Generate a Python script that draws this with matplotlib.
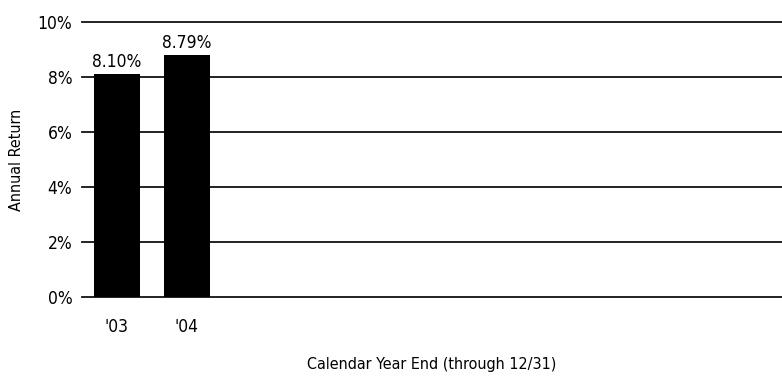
import matplotlib
matplotlib.use('Agg')
import matplotlib.pyplot as plt

years = ["'03", "'04"]
returns = [8.10, 8.79]
value_labels = ['8.10%', '8.79%']
n_slots = 10
yticks = [0, 2, 4, 6, 8, 10]
ytick_labels = ['0%', '2%', '4%', '6%', '8%', '10%']

plt.rcParams['font.family'] = ['DejaVu Sans']
plt.rcParams['font.stretch'] = 'condensed'

fig = plt.figure(figsize=(7.82, 3.76), dpi=100)
ax = fig.add_axes([82 / 782, 1 - 297 / 376, 1 - 82 / 782, 275 / 376])

x = list(range(len(years)))
ax.bar(x, returns, width=0.66, color='black', zorder=3)
for xi, v, lab in zip(x, returns, value_labels):
    ax.text(xi, v + 0.12, lab, ha='center', va='bottom', fontsize=12.5)

ax.set_xlim(-0.5, n_slots - 0.5)
ax.set_ylim(0, 10)
for yt in yticks:
    ax.axhline(yt, color='#111111', linewidth=1.3, zorder=1, clip_on=False)
ax.set_yticks(yticks)
ax.set_yticklabels(ytick_labels, fontsize=12.5)
ax.set_xticks(x)
ax.set_xticklabels(years, fontsize=12.5)
for s in ax.spines.values():
    s.set_visible(False)
ax.tick_params(axis='both', length=0)
ax.tick_params(axis='y', pad=7)
ax.tick_params(axis='x', pad=15)

ax.set_ylabel('Annual Return', fontsize=11.5, va='center')
ax.yaxis.set_label_coords(-0.093, 0.5)
ax.set_xlabel('Calendar Year End (through 12/31)', fontsize=11.5, va='center')
ax.xaxis.set_label_coords(0.5, -0.244)

fig.savefig('out.png', dpi=100)
